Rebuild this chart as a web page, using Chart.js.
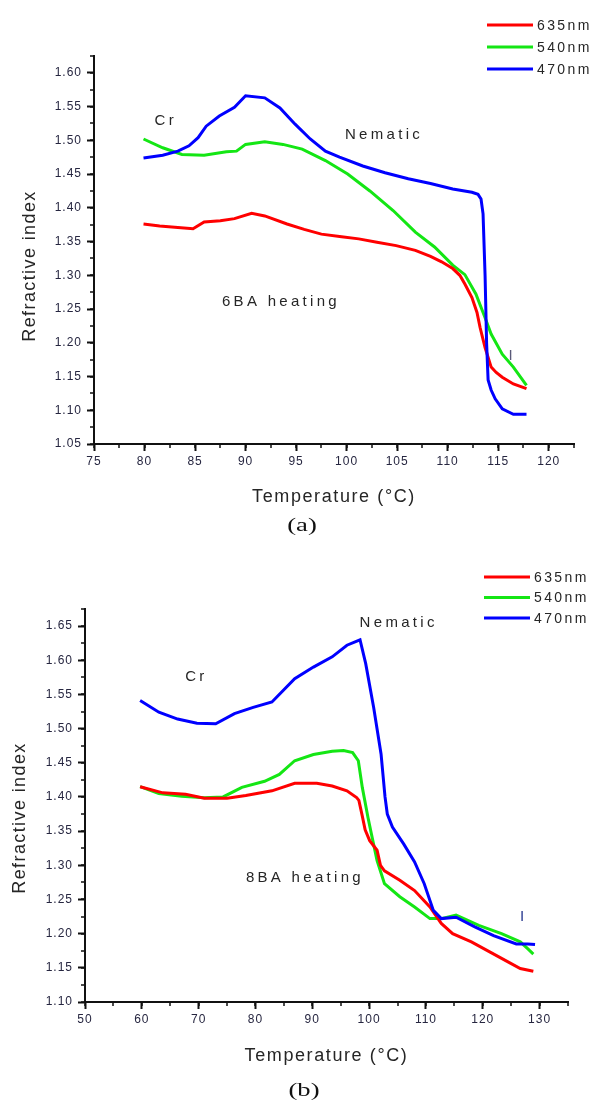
<!DOCTYPE html>
<html>
<head>
<meta charset="utf-8">
<script src="https://cdn.jsdelivr.net/npm/chart.js@4.4.1/dist/chart.umd.min.js"></script>
<style>
  body { margin: 0; background: #fff; width: 592px; height: 1100px; position: relative; overflow: hidden; }
  canvas { position: absolute; left: 0; }
  #c6 { top: 0; }
  #c8 { top: 550px; }
  .cap { position: absolute; font-family: "Liberation Serif", "Times New Roman", serif; font-size: 19px; color: #111;
         transform: translate(-50%, -50%) scaleX(1.4); white-space: nowrap; }
</style>
</head>
<body>
<canvas id="c6" width="592" height="550"></canvas>
<canvas id="c8" width="592" height="550"></canvas>
<div class="cap" style="left:302px;top:525px">(a)</div>
<div class="cap" style="left:304px;top:1090px">(b)</div>
<script>
// ---- 6BA heating (a) ----
const t6Red   = [79.9, 81.5, 83.3, 84.8, 85.9, 87.5, 88.9, 90.6, 91.9, 94.1, 95.8, 97.5, 99.5, 101.2, 103.0, 104.9, 106.8, 108.3, 109.4, 110.5, 111.2, 111.7, 112.4, 112.9, 113.2, 113.7, 114.3, 114.8, 115.4, 116.5, 117.8];
const n6Red   = [1.376, 1.373, 1.371, 1.369, 1.379, 1.381, 1.384, 1.392, 1.388, 1.376, 1.368, 1.361, 1.357, 1.354, 1.349, 1.344, 1.337, 1.328, 1.320, 1.310, 1.300, 1.287, 1.267, 1.245, 1.223, 1.193, 1.164, 1.156, 1.149, 1.139, 1.132];
const t6Green = [79.9, 81.8, 83.7, 85.9, 88.1, 89.1, 90.0, 91.9, 93.7, 95.6, 97.9, 100.1, 102.3, 104.6, 106.8, 108.7, 110.5, 111.7, 112.8, 113.7, 114.3, 115.4, 116.5, 117.8];
const n6Green = [1.502, 1.489, 1.479, 1.478, 1.483, 1.484, 1.494, 1.498, 1.494, 1.487, 1.470, 1.450, 1.425, 1.396, 1.364, 1.342, 1.315, 1.301, 1.272, 1.237, 1.213, 1.183, 1.164, 1.137];
const t6Blue  = [79.9, 81.8, 83.3, 84.4, 85.3, 86.1, 87.4, 88.9, 90.0, 91.9, 93.4, 94.9, 96.4, 97.9, 99.3, 101.6, 103.8, 106.1, 108.3, 110.5, 112.4, 113.0, 113.3, 113.5, 113.7, 113.85, 114.0, 114.3, 114.7, 115.4, 116.5, 117.8];
const n6Blue  = [1.474, 1.478, 1.484, 1.492, 1.504, 1.521, 1.536, 1.549, 1.566, 1.563, 1.548, 1.524, 1.502, 1.484, 1.475, 1.462, 1.452, 1.443, 1.436, 1.428, 1.423, 1.420, 1.413, 1.391, 1.300, 1.200, 1.145, 1.130, 1.117, 1.102, 1.094, 1.094];

// ---- 8BA heating (b) ----
const t8Red   = [59.7, 63.7, 67.7, 71.0, 75.0, 78.3, 82.9, 86.9, 90.8, 93.5, 96.1, 97.8, 98.2, 98.8, 99.3, 100.1, 101.4, 102.0, 102.7, 105.4, 108.0, 110.7, 112.7, 114.7, 118.0, 121.3, 124.6, 126.6, 128.9];
const n8Red   = [1.415, 1.406, 1.404, 1.398, 1.398, 1.402, 1.409, 1.420, 1.420, 1.416, 1.409, 1.399, 1.395, 1.372, 1.352, 1.336, 1.322, 1.300, 1.292, 1.278, 1.263, 1.239, 1.215, 1.200, 1.188, 1.173, 1.158, 1.149, 1.145];
const t8Green = [59.7, 63.0, 67.0, 71.0, 74.3, 77.6, 81.6, 84.2, 86.9, 90.2, 93.5, 95.5, 97.1, 98.1, 98.8, 99.8, 100.4, 101.4, 102.7, 105.4, 108.0, 110.7, 112.7, 115.3, 119.3, 123.3, 126.6, 127.9, 128.9];
const n8Green = [1.415, 1.405, 1.401, 1.399, 1.400, 1.414, 1.423, 1.433, 1.453, 1.462, 1.467, 1.468, 1.465, 1.453, 1.414, 1.370, 1.346, 1.307, 1.273, 1.254, 1.239, 1.222, 1.222, 1.227, 1.212, 1.200, 1.188, 1.178, 1.170];
const t8Blue  = [59.7, 63.0, 66.3, 69.7, 73.0, 76.3, 79.6, 82.9, 86.9, 90.2, 93.5, 96.1, 98.4, 99.4, 100.8, 102.1, 102.8, 103.2, 104.1, 106.1, 108.0, 109.7, 111.3, 112.7, 115.3, 118.6, 121.9, 125.9, 127.9, 129.2];
const n8Blue  = [1.541, 1.524, 1.514, 1.508, 1.507, 1.522, 1.531, 1.539, 1.573, 1.590, 1.605, 1.622, 1.630, 1.595, 1.531, 1.463, 1.400, 1.375, 1.356, 1.331, 1.305, 1.273, 1.234, 1.222, 1.224, 1.210, 1.197, 1.185, 1.185, 1.184];

const seriesNames = ['635nm', '540nm', '470nm'];
const seriesColors = ['#ff0000', '#14e614', '#0000ff'];

// text labels placed on the plot (data coords)
const notes6 = [
  { text: 'Cr', x: 82.1, y: 1.529 },
  { text: 'Nematic', x: 103.7, y: 1.508 },
  { text: '6BA heating', x: 93.5, y: 1.260 },
  { text: 'I', x: 116.4, y: 1.180, color: '#5a5a78' }
];
const notes8 = [
  { text: 'Cr', x: 69.6, y: 1.575 },
  { text: 'Nematic', x: 105.2, y: 1.654 },
  { text: '8BA heating', x: 88.7, y: 1.281 },
  { text: 'I', x: 127.2, y: 1.224, color: '#2a3a90' }
];

const pts = (xs, ys) => xs.map((x, i) => ({ x: x, y: ys[i] }));

const SANS = '"Liberation Sans", Arial, sans-serif';

const decor = {
  id: 'decor',
  beforeDraw(chart) {
    chart.ctx.letterSpacing = '1px';
  },
  afterDraw(chart, args, o) {
    const { ctx, chartArea: a, scales: { x, y } } = chart;
    ctx.save();
    // minor ticks
    ctx.strokeStyle = '#111';
    ctx.lineWidth = 1.5;
    ctx.beginPath();
    for (let v = x.min; v <= x.max + 1e-6; v += o.xMinor) {
      const px = Math.round(x.getPixelForValue(v));
      ctx.moveTo(px, a.bottom);
      ctx.lineTo(px, a.bottom + 4);
    }
    for (let v = y.min; v <= y.max + 1e-6; v += o.yMinor) {
      const py = Math.round(y.getPixelForValue(v));
      ctx.moveTo(a.left - 4, py);
      ctx.lineTo(a.left, py);
    }
    ctx.stroke();

    ctx.textAlign = 'center';
    ctx.textBaseline = 'middle';
    // notes on plot
    ctx.font = '15px ' + SANS;
    ctx.letterSpacing = '3.3px';
    o.notes.forEach(n => {
      ctx.fillStyle = n.color || '#262626';
      ctx.fillText(n.text, x.getPixelForValue(n.x), y.getPixelForValue(n.y));
    });

    // axis titles
    ctx.fillStyle = '#262626';
    ctx.font = '18px ' + SANS;
    ctx.letterSpacing = '1.6px';
    ctx.fillText('Temperature (\u00B0C)', (a.left + a.right) / 2, o.xTitleY);
    ctx.save();
    ctx.translate(o.yTitleX, o.yTitleY);
    ctx.rotate(-Math.PI / 2);
    ctx.letterSpacing = '1.4px';
    ctx.fillText('Refractive index', 0, 0);
    ctx.restore();

    // legend
    ctx.font = '14px ' + SANS;
    ctx.letterSpacing = '2.4px';
    ctx.textAlign = 'left';
    chart.data.datasets.forEach((d, i) => {
      const ly = o.legend.y + i * o.legend.gap;
      ctx.strokeStyle = d.borderColor;
      ctx.lineWidth = 3;
      ctx.beginPath();
      ctx.moveTo(o.legend.x0, ly);
      ctx.lineTo(o.legend.x1, ly);
      ctx.stroke();
      ctx.fillStyle = '#262626';
      ctx.fillText(d.label, o.legend.tx, ly + 1);
    });
    ctx.restore();
  }
};

function makeChart(id, data, ax, lay) {
  return new Chart(document.getElementById(id), {
    type: 'scatter',
    data: {
      datasets: data.map((s, i) => ({
        label: seriesNames[i],
        data: s,
        showLine: true,
        borderColor: seriesColors[i],
        backgroundColor: seriesColors[i],
        borderWidth: 3,
        pointRadius: 0,
        tension: 0,
        order: i === 2 ? 0 : i + 1
      }))
    },
    options: {
      responsive: false,
      animation: false,
      layout: { padding: { left: 0, top: lay.top, right: lay.right, bottom: 0 } },
      plugins: {
        legend: { display: false },
        tooltip: { enabled: false },
        decor: {
          xMinor: ax.xMinor, yMinor: ax.yMinor, notes: lay.notes,
          xTitleY: lay.xTitleY, yTitleX: lay.yTitleX, yTitleY: lay.yTitleY,
          legend: lay.legend
        }
      },
      scales: {
        x: {
          type: 'linear',
          min: ax.xMin, max: ax.xMax,
          afterFit: s => { s.height = lay.xH; },
          border: { color: '#111', width: 2 },
          grid: { drawOnChartArea: false, tickLength: 7, tickColor: '#111', tickWidth: 2 },
          ticks: {
            stepSize: ax.xStep, includeBounds: false, maxRotation: 0, padding: 3,
            color: '#262640', font: { family: SANS, size: 12 }
          }
        },
        y: {
          type: 'linear',
          min: ax.yMin, max: ax.yMax,
          afterFit: s => { s.width = lay.yW; },
          border: { color: '#111', width: 2 },
          grid: { drawOnChartArea: false, tickLength: 7, tickColor: '#111', tickWidth: 2 },
          ticks: {
            stepSize: 0.05, includeBounds: false, padding: 5,
            color: '#262640', font: { family: SANS, size: 12 },
            callback: v => v.toFixed(2)
          }
        }
      }
    },
    plugins: [decor]
  });
}

makeChart('c6',
  [pts(t6Red, n6Red), pts(t6Green, n6Green), pts(t6Blue, n6Blue)],
  { xMin: 75, xMax: 122.5, xStep: 5, xMinor: 2.5, yMin: 1.05, yMax: 1.625, yMinor: 0.025 },
  { top: 56, right: 18, xH: 106, yW: 94, notes: notes6, xTitleY: 497, yTitleX: 30, yTitleY: 266,
    legend: { x0: 487, x1: 533, tx: 537, y: 25, gap: 22 } });

makeChart('c8',
  [pts(t8Red, n8Red), pts(t8Green, n8Green), pts(t8Blue, n8Blue)],
  { xMin: 50, xMax: 135, xStep: 10, xMinor: 5, yMin: 1.10, yMax: 1.675, yMinor: 0.025 },
  { top: 59, right: 24, xH: 98, yW: 85, notes: notes8, xTitleY: 506, yTitleX: 20, yTitleY: 268,
    legend: { x0: 484, x1: 530, tx: 534, y: 27, gap: 20.5 } });
</script>
</body>
</html>
